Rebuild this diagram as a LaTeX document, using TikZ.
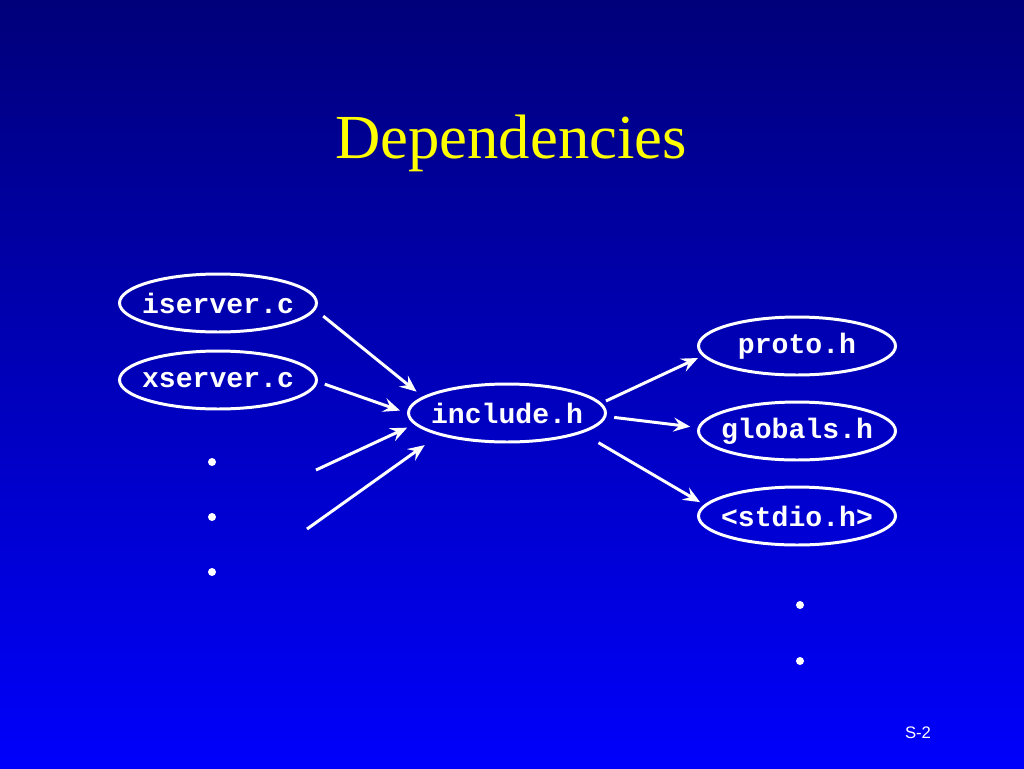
\documentclass[tikz,border=0pt]{standalone}
\usepackage{fontspec}
\setmainfont{Liberation Serif}
\newfontfamily\codefont{Liberation Mono}
\newfontfamily\pagefont{Liberation Sans}
\usetikzlibrary{shapes.geometric,arrows.meta}

\definecolor{slidetop}{RGB}{0,0,122}
\definecolor{slidebottom}{RGB}{0,0,252}
\definecolor{titleyellow}{RGB}{255,255,0}

\tikzset{
  file/.style={ellipse,draw=white,line width=1.7pt,minimum width=3.94cm,
    minimum height=1.16cm,inner xsep=-4pt,inner ysep=0pt,text=white,
    font=\codefont\bfseries\fontsize{16}{16}\selectfont},
  dep/.style={draw=white,line width=1.7pt,
    -{Stealth[length=9.5pt,width=8pt,inset=3.5pt]}},
  dot/.style={fill=white}
}

\begin{document}
\begin{tikzpicture}[x=0.02cm,y=-0.02cm]
\shade[top color=slidetop,bottom color=slidebottom] (0,0) rectangle (1024,768);
\node[anchor=base,text=titleyellow,font=\fontsize{35.7}{36}\selectfont] (title) at (511,158) {Dependencies};

% sources
\node[file] (iserver) at (218,303) {iserver.c};
\node[file] (xserver) at (218,380) {xserver.c};
\fill[dot] (212,462) circle[radius=4];
\fill[dot] (212,517) circle[radius=4];
\fill[dot] (212,572) circle[radius=4];

% the header
\node[file] (include) at (507,413) {include.h};

% headers it pulls in
\node[file] (proto) at (797,346) {proto.h};
\node[file] (globals) at (797,431) {globals.h};
\node[file] (stdio) at (797,516) {<stdio.h>};
\fill[dot] (800,605) circle[radius=4];
\fill[dot] (800,661) circle[radius=4];

\coordinate (more1) at (316,470);
\coordinate (more2) at (307,529);

\draw[dep,shorten <=5.7pt,shorten >=4.5pt] (iserver.-4) -- (include.169);
\draw[dep,shorten <=4.2pt,shorten >=4.2pt] (xserver.-1) -- (include.180);
\draw[dep,shorten >=4.4pt] (more1) -- (include.187);
\draw[dep,shorten >=9.7pt] (more2) -- (include.198);
\draw[dep,shorten <=2.8pt,shorten >=2.8pt] (include.6) -- (proto.186);
\draw[dep,shorten <=4.5pt,shorten >=4.3pt] (include.-2) -- (globals.178);
\draw[dep,shorten <=10.8pt,shorten >=2.8pt] (include.-15.5) -- (stdio.173.6);

\node[text=white,font=\pagefont\fontsize{9.5}{10}\selectfont] (page) at (918,733) {S-2};
\end{tikzpicture}
\end{document}
